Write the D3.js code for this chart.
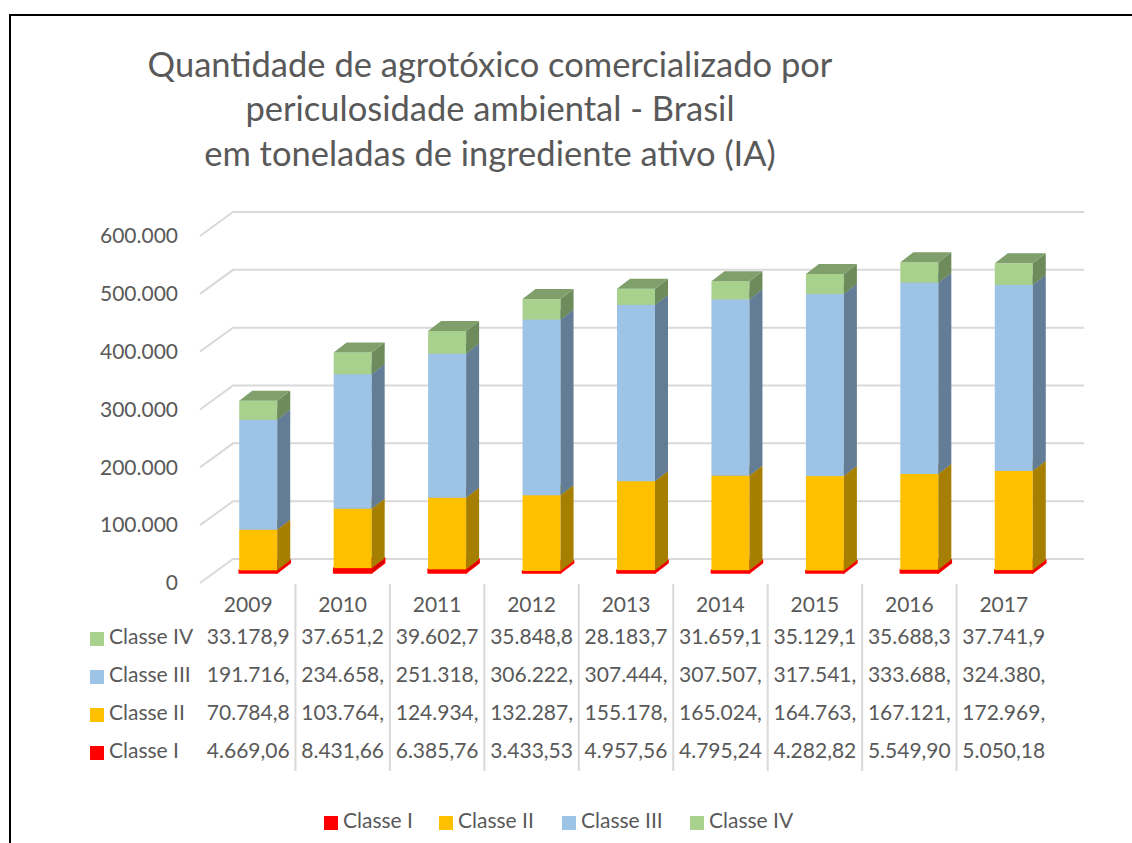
<!DOCTYPE html>
<html>
<head>
<meta charset="utf-8">
<script src="https://cdn.jsdelivr.net/npm/d3@7/dist/d3.min.js"></script>
<style>
  body { margin: 0; background: #fff; }
  text { font-family: Lato, "Open Sans", sans-serif; fill: #595959; }
</style>
</head>
<body>
<script>
var years = ["2009", "2010", "2011", "2012", "2013", "2014", "2015", "2016", "2017"];
var classeI = [4669.06, 8431.66, 6385.76, 3433.53, 4957.56, 4795.24, 4282.82, 5549.90, 5050.18];
var classeII = [70784.8, 103764, 124934, 132287, 155178, 165024, 164763, 167121, 172969];
var classeIII = [191716, 234658, 251318, 306222, 307444, 307507, 317541, 333688, 324380];
var classeIV = [33178.9, 37651.2, 39602.7, 35848.8, 28183.7, 31659.1, 35129.1, 35688.3, 37741.9];
var seriesNames = ["Classe I", "Classe II", "Classe III", "Classe IV"];
var yTicks = [0, 100000, 200000, 300000, 400000, 500000, 600000];
var titleLines = ["Quantidade de agrotóxico comercializado por",
                  "periculosidade ambiental - Brasil",
                  "em toneladas de ingrediente ativo (IA)"];

var w = 1132, h = 843;
var colors = ["#FF0000", "#FFC000", "#9DC3E6", "#A9D18E"];
var sideColors = ["#D00000", "#A67F00", "#637D97", "#6E8B5B"];
var topColors = ["#FF2020", "#C99A00", "#7C9AB6", "#7F9F6B"];

// 3d offsets: floor depth and bar placement inside it
var depthX = 33, depthY = 24;
var barShiftX = 10, barW = 38, barDX = 13, barDY = -10;

var rows = years.map(function (y, i) {
  return { year: y, "Classe I": classeI[i], "Classe II": classeII[i],
           "Classe III": classeIII[i], "Classe IV": classeIV[i] };
});
var stacked = d3.stack().keys(seriesNames)(rows);

var ptBR = d3.formatLocale({ decimal: ",", thousands: ".", grouping: [3], currency: ["R$", ""] });
var fmtAxis = ptBR.format(",.0f");
var fmtCell = function (v) { return ptBR.format(",.2f")(v).slice(0, 8); };

var svg = d3.select("body").append("svg")
  .attr("width", w)
  .attr("height", h);

// frame
svg.append("path")
  .attr("d", "M10,843 L10,15 L1132,15")
  .attr("fill", "none")
  .attr("stroke", "#000")
  .attr("stroke-width", 2);

// title
svg.append("g").selectAll("text")
  .data(titleLines)
  .enter()
  .append("text")
  .attr("x", 490)
  .attr("y", function (d, i) { return 68 + i * 44.5; })
  .attr("text-anchor", "middle")
  .attr("dominant-baseline", "middle")
  .attr("font-size", "34.5px")
  .text(function (d) { return d; });

var x = d3.scaleBand().domain(years).range([201, 1051]);
var y = d3.scaleLinear().domain([0, 600000]).range([559, 212]);
var yBar = d3.scaleLinear().domain([0, 600000]).range([573, 229]);

// gridlines on back wall + side wall diagonal
var grid = svg.append("g");
grid.selectAll("polyline")
  .data(yTicks)
  .enter()
  .append("polyline")
  .attr("points", function (d) {
    var yy = y(d);
    return 200 + "," + (yy + depthY) + " " + (200 + depthX) + "," + yy + " " + (1051 + depthX) + "," + yy;
  })
  .attr("fill", "none")
  .attr("stroke", "#D9D9D9")
  .attr("stroke-width", 2);

// y axis labels
var yAxis = svg.append("g")
  .attr("transform", "translate(181," + depthY + ")")
  .call(d3.axisLeft(y).tickValues(yTicks).tickFormat(fmtAxis).tickSize(0).tickPadding(3));
yAxis.select(".domain").remove();
yAxis.selectAll("text")
  .attr("font-size", "21px")
  .attr("font-family", null)
  .attr("fill", null);

// bars
var series = svg.append("g").selectAll("g")
  .data(stacked)
  .enter()
  .append("g");

series.each(function (s, si) {
  var g = d3.select(this);
  var segs = g.selectAll("g").data(s).enter().append("g");
  // classe I is very thin, excel draws it with an outline
  if (si === 0) {
    segs.attr("stroke", colors[0]).attr("stroke-width", 1.5).attr("stroke-linejoin", "round");
  }
  segs.append("rect")
    .attr("x", function (d) { return x(d.data.year) + x.bandwidth() / 2 + barShiftX - barW / 2; })
    .attr("y", function (d) { return yBar(d[1]); })
    .attr("width", barW)
    .attr("height", function (d) { return yBar(d[0]) - yBar(d[1]); })
    .attr("fill", colors[si]);
  segs.append("path")
    .attr("d", function (d) {
      var x1 = x(d.data.year) + x.bandwidth() / 2 + barShiftX + barW / 2;
      var y0 = yBar(d[0]), y1 = yBar(d[1]);
      return "M" + x1 + "," + y0 + "L" + x1 + "," + y1 + "L" + (x1 + barDX) + "," + (y1 + barDY) +
        "L" + (x1 + barDX) + "," + (y0 + barDY) + "Z";
    })
    .attr("fill", sideColors[si]);
  segs.append("path")
    .attr("d", function (d) {
      var x0 = x(d.data.year) + x.bandwidth() / 2 + barShiftX - barW / 2;
      var y1 = yBar(d[1]);
      return "M" + x0 + "," + y1 + "L" + (x0 + barW) + "," + y1 + "L" + (x0 + barW + barDX) + "," + (y1 + barDY) +
        "L" + (x0 + barDX) + "," + (y1 + barDY) + "Z";
    })
    .attr("fill", topColors[si]);
});

// data table: column dividers
svg.append("g").selectAll("line")
  .data(years.slice(1))
  .enter()
  .append("line")
  .attr("x1", function (d) { return x(d); })
  .attr("x2", function (d) { return x(d); })
  .attr("y1", 584)
  .attr("y2", 771)
  .attr("stroke", "#D9D9D9")
  .attr("stroke-width", 2);

// category labels
svg.append("g").selectAll("text")
  .data(years)
  .enter()
  .append("text")
  .attr("x", function (d) { return x(d) + x.bandwidth() / 2; })
  .attr("y", 607)
  .attr("text-anchor", "middle")
  .attr("dominant-baseline", "middle")
  .attr("font-size", "21px")
  .text(function (d) { return d; });

// table rows, top row is Classe IV
var tableRows = [
  { name: "Classe IV", vals: classeIV, c: colors[3] },
  { name: "Classe III", vals: classeIII, c: colors[2] },
  { name: "Classe II", vals: classeII, c: colors[1] },
  { name: "Classe I", vals: classeI, c: colors[0] }
];
var tr = svg.append("g").selectAll("g")
  .data(tableRows)
  .enter()
  .append("g")
  .attr("transform", function (d, i) { return "translate(0," + (639 + i * 38) + ")"; });
tr.append("rect")
  .attr("x", 90)
  .attr("y", -7)
  .attr("width", 14)
  .attr("height", 14)
  .attr("fill", function (d) { return d.c; });
tr.append("text")
  .attr("x", 109)
  .attr("dominant-baseline", "middle")
  .attr("font-size", "21px")
  .text(function (d) { return d.name; });
tr.selectAll("text.val")
  .data(function (d) { return d.vals; })
  .enter()
  .append("text")
  .attr("class", "val")
  .attr("x", function (d, i) { return x(years[i]) + x.bandwidth() / 2; })
  .attr("text-anchor", "middle")
  .attr("dominant-baseline", "middle")
  .attr("font-size", "21px")
  .text(function (d) { return fmtCell(d); });

// legend
var legX = [324, 439, 562, 690];
var leg = svg.append("g").selectAll("g")
  .data(seriesNames)
  .enter()
  .append("g")
  .attr("transform", function (d, i) { return "translate(" + legX[i] + ",823)"; });
leg.append("rect")
  .attr("x", 0)
  .attr("y", -7)
  .attr("width", 14)
  .attr("height", 14)
  .attr("fill", function (d, i) { return colors[i]; });
leg.append("text")
  .attr("x", 19)
  .attr("dominant-baseline", "middle")
  .attr("font-size", "21px")
  .text(function (d) { return d; });
</script>
</body>
</html>
